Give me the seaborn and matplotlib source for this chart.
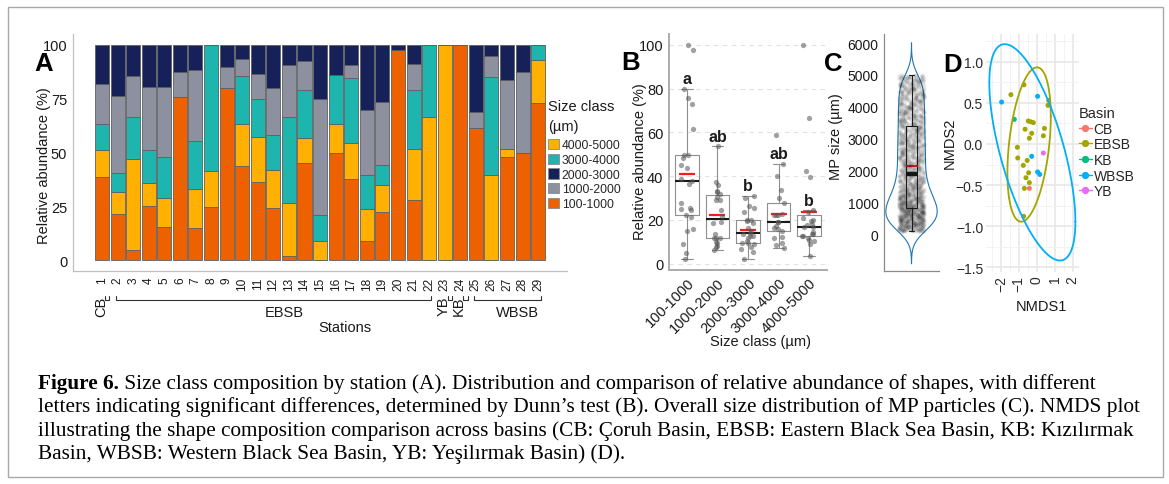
import numpy as np
import pandas as pd
import matplotlib
matplotlib.use("Agg")
import matplotlib.pyplot as plt
import matplotlib.transforms as mtransforms
from matplotlib.patches import Patch, Rectangle
from matplotlib.lines import Line2D
import seaborn as sns

# ---------------------------------------------------------------- data
stations = [str(i) for i in range(1, 30)]
station_basin = ["CB"] + ["EBSB"] * 21 + ["YB", "KB"] + ["WBSB"] * 5

size_labels = ["100-1000", "1000-2000", "2000-3000", "3000-4000", "4000-5000"]
pct_100_1000 = [38.6, 21.3, 4.8, 25.3, 15.6, 75.8, 14.8, 24.8, 79.8, 43.7, 36.4, 24.4, 2.0, 44.9, 0,
                49.8, 37.8, 9.1, 22.4, 97.7, 27.9, 0, 0, 100, 61.3, 0, 48.1, 49.8, 73.0]
pct_1000_2000 = [18.5, 35.9, 18.9, 29.1, 32.6, 11.7, 33.2, 0, 9.7, 8.2, 11.5, 21.7, 24.3, 13.7, 53.6,
                 0, 6.1, 30.4, 29.2, 0, 11.7, 0, 0, 0, 7.7, 9.6, 31.8, 37.4, 0]
pct_2000_3000 = [18.4, 23.8, 14.7, 19.8, 19.4, 12.5, 11.6, 0, 10.5, 6.5, 13.7, 20.0, 9.3, 7.4, 25.3,
                 14.0, 9.3, 30.1, 26.4, 2.3, 9.1, 0, 0, 0, 31.0, 5.4, 16.5, 12.8, 0]
pct_3000_4000 = [11.9, 8.5, 19.2, 15.1, 19.0, 0, 22.2, 58.6, 0, 22.3, 17.4, 16.3, 40.0, 22.3, 12.3,
                 22.7, 30.1, 15.9, 9.5, 0, 27.8, 33.6, 0, 0, 0, 45.5, 0, 0, 7.0]
pct_4000_5000 = [12.6, 10.5, 42.4, 10.7, 13.4, 0, 18.2, 16.6, 0, 19.3, 21.0, 17.6, 24.4, 11.7, 8.8,
                 13.5, 16.7, 14.5, 12.5, 0, 23.5, 66.4, 100, 0, 0, 39.5, 3.6, 0, 20.0]

dunn_letters = ["a", "ab", "b", "ab", "b"]

# overall MP size distribution (panel C): particle counts per size bin (um)
mp_bin_edges = [100, 250, 500, 750, 1000, 1250, 1500, 1750, 2000, 2500, 3000, 3500, 4000, 4500, 5000]
mp_bin_counts = [65, 127, 133, 127, 103, 82, 70, 64, 127, 127, 121, 121, 115, 115]

# NMDS scores (panel D), one per station
nmds1 = [-0.41,
         -0.71, -1.44, 0.67, 0.63, -0.47, -0.34, -0.19, -0.65, 0.43, -0.28, 0.37,
         -0.41, -1.08, -1.06, -0.53, -0.75, -0.45, -0.60, -0.41, -0.69, -0.73,
         0.37, -1.25,
         -1.96, 0.05, -0.28, 0.05, 0.17]
nmds2 = [-0.54,
         0.72, 0.60, 0.53, 0.47, 0.28, 0.27, 0.26, 0.18, 0.19, 0.13, 0.10,
         0.07, -0.04, -0.17, -0.20, -0.26, -0.35, -0.41, -0.47, -0.54, -0.88,
         -0.11, 0.30,
         0.51, 0.58, -0.15, -0.34, -0.37]
basin_levels = ["CB", "EBSB", "KB", "WBSB", "YB"]

caption_bold = "Figure 6."
caption_lines = [
    " Size class composition by station (A). Distribution and comparison of relative abundance of shapes, with different",
    "letters indicating significant differences, determined by Dunn\u2019s test (B). Overall size distribution of MP particles (C). NMDS plot",
    "illustrating the shape composition comparison across basins (CB: \u00c7oruh Basin, EBSB: Eastern Black Sea Basin, KB: K\u0131z\u0131l\u0131rmak",
    "Basin, WBSB: Western Black Sea Basin, YB: Ye\u015fil\u0131rmak Basin) (D).",
]

# ---------------------------------------------------------------- style
size_colors = {"100-1000": "#EE6100", "4000-5000": "#FFB000", "3000-4000": "#1DB5AE",
               "1000-2000": "#8D909F", "2000-3000": "#152158"}
basin_colors = {"CB": "#F8766D", "EBSB": "#A3A500", "KB": "#00BF7D", "WBSB": "#00B0F6", "YB": "#E76BF3"}

sns.set_style("white")
plt.rcParams["font.family"] = ["Liberation Sans", "DejaVu Sans"]
plt.rcParams["axes.unicode_minus"] = True

W, H = 1169, 485
fig = plt.figure(figsize=(W / 100, H / 100), dpi=100)


def add_ax(l, t, r, b):
    return fig.add_axes([l / W, 1 - b / H, (r - l) / W, (b - t) / H])


TXT = "#1a1a1a"
np.random.seed(7)

# ---------------------------------------------------------------- panel A
values_by_class = {"100-1000": pct_100_1000, "1000-2000": pct_1000_2000, "2000-3000": pct_2000_3000,
                   "3000-4000": pct_3000_4000, "4000-5000": pct_4000_5000}
rowsA = []
for cls, vals in values_by_class.items():
    for i, v in enumerate(vals):
        rowsA.append({"idx": i, "size": cls, "pct": v})
dfA = pd.DataFrame(rowsA)
stack_top_first = ["2000-3000", "1000-2000", "3000-4000", "4000-5000", "100-1000"]

axA = add_ax(72.7, 35, 567, 272)
sns.histplot(data=dfA, x="idx", weights="pct", hue="size", hue_order=stack_top_first,
             multiple="stack", discrete=True, shrink=0.9, palette=size_colors,
             edgecolor="#5f5f5f", linewidth=0.6, alpha=1, legend=False, ax=axA)
axA.set_xlim(-1.88, 29.85)
axA.set_ylim(-5, 105)
axA.set_yticks([0, 25, 50, 75, 100])
axA.set_xticks(range(len(stations)))
axA.set_xticklabels(stations, rotation=90, fontsize=8.6, color=TXT)
axA.tick_params(axis="y", labelsize=10.5, colors="#b5b5b5", labelcolor=TXT, length=3, width=0.8, pad=1)
axA.tick_params(axis="x", colors="#b5b5b5", labelcolor=TXT, length=2.5, width=0.8, pad=1.5)
for s in ["top", "right"]:
    axA.spines[s].set_visible(False)
for s in ["left", "bottom"]:
    axA.spines[s].set_color("#c0c0c0")
    axA.spines[s].set_linewidth(0.9)
axA.set_xlabel("")
axA.set_ylabel("Relative abundance (%)", fontsize=10.5, color=TXT)
axA.yaxis.set_label_coords(-0.044, 0.45)
axA.text(0.551, -0.236, "Stations", transform=axA.transAxes, ha="center", va="center",
         fontsize=10.5, color=TXT)

# basin brackets under the station labels
trans = mtransforms.blended_transform_factory(axA.transData, axA.transAxes)
groups = []
start = 0
for i in range(1, len(station_basin) + 1):
    if i == len(station_basin) or station_basin[i] != station_basin[start]:
        groups.append((station_basin[start], start, i - 1))
        start = i
y_line, y_top = -0.121, -0.106
for name, a, b in groups:
    if a == b:
        xs = [a + 0.2, a + 0.2, a + 0.47, a + 0.47]
        axA.text(a - 0.07, -0.146, name, transform=trans, rotation=90, ha="center", va="center",
                 fontsize=10.5, color=TXT, clip_on=False)
    else:
        xs = [a - 0.1, a - 0.1, b + 0.15, b + 0.15]
        axA.text((a + b) / 2 + 0.7, -0.173, name, transform=trans, ha="center", va="center",
                 fontsize=10.5, color=TXT, clip_on=False)
    axA.plot(xs, [y_top, y_line, y_line, y_top], transform=trans, color="#333333", lw=0.8,
             clip_on=False)

legend_order = ["4000-5000", "3000-4000", "2000-3000", "1000-2000", "100-1000"]
fig.text(548 / W, 1 - 107 / H, "Size class", ha="left", va="center", fontsize=10.5, color=TXT)
fig.text(548 / W, 1 - 127 / H, "(\u00b5m)", ha="left", va="center", fontsize=10.5, color=TXT)
handlesA = [Patch(facecolor=size_colors[c], edgecolor="#8a8a8a", linewidth=0.6) for c in legend_order]
legA = axA.legend(handlesA, legend_order, loc="upper left",
                  bbox_to_anchor=(548 / W, 1 - 140 / H), bbox_transform=fig.transFigure,
                  frameon=False, fontsize=8.7, handlelength=0.95,
                  handleheight=0.95, handletextpad=0.2, labelspacing=0.19, borderpad=0,
                  borderaxespad=0)

# ---------------------------------------------------------------- panel B
rowsB = []
for cls in size_labels:
    for v in values_by_class[cls]:
        if v > 0:
            rowsB.append({"size": cls, "pct": v})
dfB = pd.DataFrame(rowsB)

axB = add_ax(669, 35, 827, 271)
axB.yaxis.grid(True, linestyle=(0, (4, 4)), color="#e2e2e2", lw=0.8)
axB.set_axisbelow(True)
sns.boxplot(data=dfB, x="size", y="pct", order=size_labels, width=0.76, fill=False,
            color="#8f8f8f", linewidth=0.8, showfliers=False,
            medianprops=dict(color="#1a1a1a", linewidth=1.5),
            showmeans=True,
            meanprops=dict(marker="_", markeredgecolor="#ff1a1a", markersize=11.5, markeredgewidth=1.6),
            ax=axB)
sns.stripplot(data=dfB, x="size", y="pct", order=size_labels, jitter=0.22, size=3.8,
              color="#555555", alpha=0.55, ax=axB)
for i, cls in enumerate(size_labels):
    v = dfB.loc[dfB["size"] == cls, "pct"].values
    q1, q3 = np.percentile(v, [25, 75])
    wtop = v[v <= q3 + 1.5 * (q3 - q1)].max()
    axB.text(i, wtop + 2.6, dunn_letters[i], ha="center", va="baseline", fontsize=11.5,
             fontweight="bold", color=TXT)
axB.set_xlim(-0.59, 4.59)
axB.set_ylim(-2.9, 104.9)
axB.set_yticks([0, 20, 40, 60, 80, 100])
axB.set_xticks(range(5))
axB.set_xticklabels(size_labels, rotation=45, ha="right", rotation_mode="anchor", fontsize=10.5, color=TXT)
axB.tick_params(axis="both", colors="#aaaaaa", labelcolor=TXT, length=2.5, width=0.8, pad=1.5,
                labelsize=10.5)
for s in ["top", "right"]:
    axB.spines[s].set_visible(False)
for s in ["left", "bottom"]:
    axB.spines[s].set_color("#ababab")
    axB.spines[s].set_linewidth(1.4)
axB.set_xlabel("Size class (\u00b5m)", fontsize=10.5, color=TXT)
axB.set_ylabel("Relative abundance (%)", fontsize=10.5, color=TXT)
axB.xaxis.set_label_coords(0.576, -0.271)
axB.yaxis.set_label_coords(-0.14, 0.464)

# ---------------------------------------------------------------- panel C
mp_sizes = []
for lo, hi, n in zip(mp_bin_edges[:-1], mp_bin_edges[1:], mp_bin_counts):
    step = (hi - lo) / n
    mp_sizes.extend(lo + step * (np.arange(n) + 0.5))
mp_sizes = np.array(mp_sizes)

axC = add_ax(884, 35, 939, 272)
sns.violinplot(y=mp_sizes, cut=3, bw_adjust=1.0, inner=None, fill=False, width=1.12,
               linecolor="#1a1a1a", linewidth=0.8, ax=axC)
sns.stripplot(y=mp_sizes, jitter=0.28, size=3, color="#222222", alpha=0.09, ax=axC)
sns.boxplot(y=mp_sizes, width=0.26, fill=False, color="#1a1a1a", linewidth=0.8, showfliers=False,
            medianprops=dict(color="#111111", linewidth=3.2),
            showmeans=True,
            meanprops=dict(marker="_", markeredgecolor="#ff1a1a", markersize=8, markeredgewidth=1.5),
            ax=axC)
axC.set_xlim(-0.6, 0.6)
axC.set_ylim(-1136, 6282)
axC.set_yticks(range(0, 6001, 1000))
axC.set_xticks([])
axC.tick_params(axis="y", colors="#8a8a8a", labelcolor=TXT, length=2.5, width=0.8, pad=1.5, labelsize=10)
for s in ["top", "right"]:
    axC.spines[s].set_visible(False)
for s in ["left", "bottom"]:
    axC.spines[s].set_color("#8a8a8a")
    axC.spines[s].set_linewidth(0.9)
axC.set_ylabel("MP size (\u00b5m)", fontsize=10.5, color=TXT)
axC.yaxis.set_label_coords(-0.74, 0.57)

# ---------------------------------------------------------------- panel D
dfD = pd.DataFrame({"NMDS1": nmds1, "NMDS2": nmds2, "Basin": station_basin})
axD = add_ax(986, 35, 1079, 273)
axD.set_xticks([-2, -1, 0, 1, 2])
axD.set_xticks([-2.5, -1.5, -0.5, 0.5, 1.5], minor=True)
axD.set_yticks([-1.5, -1.0, -0.5, 0.0, 0.5, 1.0])
axD.set_yticks([-1.25, -0.75, -0.25, 0.25, 0.75, 1.25], minor=True)
axD.grid(True, which="major", color="#e6e6e6", lw=1.1)
axD.grid(True, which="minor", color="#f1f1f1", lw=0.6)
axD.set_axisbelow(True)


def cov_trob(X, nu=5, maxit=25, tol=0.01):
    n, p = X.shape
    wt = np.ones(n)
    loc = X.mean(axis=0)
    w = np.sqrt(wt)
    Xc = X - loc
    for _ in range(maxit):
        w0 = w
        Xc = X - loc
        _, d, vt = np.linalg.svd(np.sqrt(w / w.sum())[:, None] * Xc, full_matrices=False)
        wX = Xc @ vt.T @ np.diag(1 / d)
        Q = (wX ** 2).sum(axis=1)
        w = wt * (nu + p) / (nu + Q)
        loc = (w[:, None] * X).sum(axis=0) / w.sum()
        if np.all(np.abs(w - w0) < tol):
            break
    sw = np.sqrt(w)[:, None] * Xc
    return loc, sw.T @ sw / wt.sum()


f95 = {4: 6.9443, 20: 3.4928}  # qf(0.95, 2, n-1)
ang = np.linspace(0, 2 * np.pi, 200)
circle = np.column_stack([np.cos(ang), np.sin(ang)])
for basin in basin_levels:
    sub = dfD[dfD["Basin"] == basin][["NMDS1", "NMDS2"]].values
    if len(sub) - 1 in f95:
        center, shape = cov_trob(sub)
        R = np.linalg.cholesky(shape).T
        ell = center + np.sqrt(2 * f95[len(sub) - 1]) * circle @ R
        axD.plot(ell[:, 0], ell[:, 1], color=basin_colors[basin], lw=1.3)
sns.scatterplot(data=dfD, x="NMDS1", y="NMDS2", hue="Basin", hue_order=basin_levels,
                palette=basin_colors, s=13, linewidth=0, legend=False, ax=axD)
axD.set_xlim(-2.83, 2.36)
axD.set_ylim(-1.557, 1.338)
axD.set_xticklabels(["\u22122", "\u22121", "0", "1", "2"], rotation=90)
axD.set_yticklabels(["\u22121.5", "\u22121.0", "\u22120.5", "0.0", "0.5", "1.0"])
axD.tick_params(axis="both", which="both", length=0, labelsize=10, labelcolor="#2a2a2a", pad=2)
for s in axD.spines.values():
    s.set_visible(False)
axD.set_xlabel("NMDS1", fontsize=10.5, color=TXT)
axD.set_ylabel("NMDS2", fontsize=10.5, color=TXT)
axD.xaxis.set_label_coords(0.599, -0.113)
axD.yaxis.set_label_coords(-0.317, 0.544)
handlesD = [Line2D([], [], color=basin_colors[b], lw=1.0, marker="o", markersize=4.2) for b in basin_levels]
axD.legend(handlesD, basin_levels, title="Basin", loc="upper left",
           bbox_to_anchor=(1079 / W, 1 - 107 / H), bbox_transform=fig.transFigure,
           frameon=False, fontsize=10, title_fontsize=10.5, handlelength=0.9,
           handletextpad=0.15, labelspacing=0.12, borderpad=0, borderaxespad=0, alignment="left")

# ---------------------------------------------------------------- panel letters
for lab, (px, py) in zip("ABCD", [(44, 64), (631, 63), (833, 64), (953, 65)]):
    fig.text(px / W, 1 - py / H, lab, ha="center", va="center", fontsize=18.5, fontweight="bold",
             color="black")

# ---------------------------------------------------------------- caption
cap_font = ["Liberation Serif", "DejaVu Serif"]
fig.canvas.draw()
renderer = fig.canvas.get_renderer()
x0 = 38
target_right = 1097
baselines = [389, 412.5, 436, 459.5]
fs = 13.0
for _ in range(4):
    tb = fig.text(x0 / W, 1 - baselines[0] / H, caption_bold, fontsize=fs, fontweight="bold",
                  family=cap_font, va="baseline")
    wb = tb.get_window_extent(renderer).width
    tr = fig.text((x0 + wb) / W, 1 - baselines[0] / H, caption_lines[0], fontsize=fs,
                  family=cap_font, va="baseline")
    right = tr.get_window_extent(renderer).x1
    tb.remove()
    tr.remove()
    fs = fs * (target_right - x0) / (right - x0)

tb = fig.text(x0 / W, 1 - baselines[0] / H, caption_bold, fontsize=fs, fontweight="bold",
              family=cap_font, va="baseline", color="black")
wb = tb.get_window_extent(renderer).width
fig.text((x0 + wb) / W, 1 - baselines[0] / H, caption_lines[0], fontsize=fs, family=cap_font,
         va="baseline", color="black")
for line, yb in zip(caption_lines[1:], baselines[1:]):
    fig.text(x0 / W, 1 - yb / H, line, fontsize=fs, family=cap_font, va="baseline", color="black")

# outer frame
fig.add_artist(Rectangle((8 / W, 1 - 478 / H), (1163 - 8) / W, (478 - 8) / H, transform=fig.transFigure,
                         fill=False, edgecolor="#a8a8a8", lw=1.0))

fig.savefig("out.png", dpi=100)
